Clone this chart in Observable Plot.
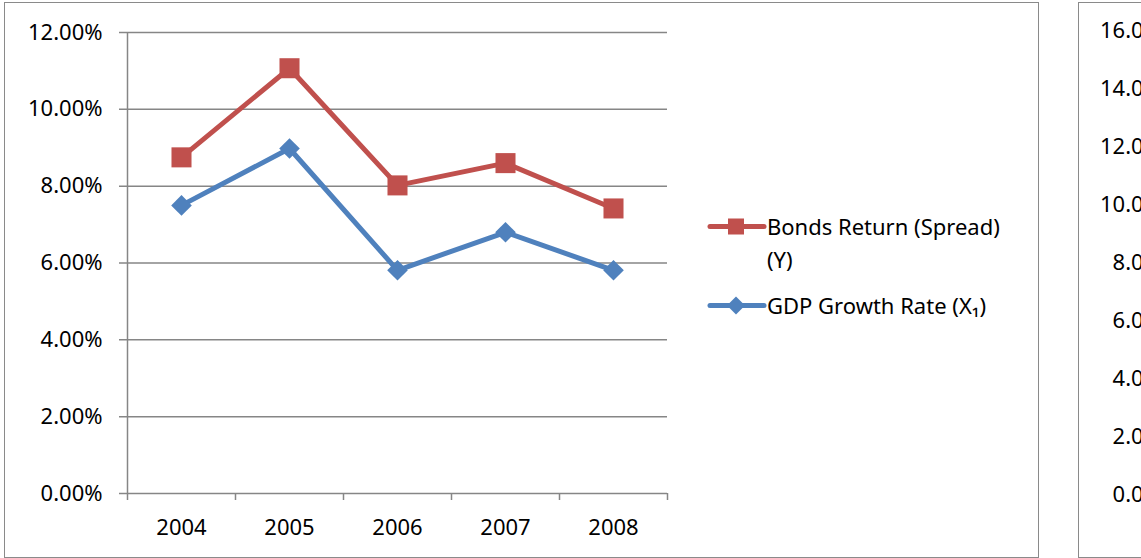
<!DOCTYPE html>
<html><head><meta charset="utf-8">
<script src="https://cdn.jsdelivr.net/npm/d3@7"></script>
<script src="https://cdn.jsdelivr.net/npm/@observablehq/plot@0.6"></script>
<style>
html,body{margin:0;padding:0;background:#fff;overflow:hidden;width:1141px;height:558px;}
body{font-family:"Noto Sans",sans-serif;}
.box{position:absolute;border:1px solid #8a8a8a;background:#fff;overflow:hidden;}
.legend{position:absolute;left:702px;top:207px;font-size:22px;color:#000;}
.row{display:flex;align-items:flex-start;margin-bottom:13px;}
.row svg{flex:none;}
.row span{line-height:33px;width:262px;}
</style></head>
<body>
<div id="c1" class="box" style="left:4px;top:2px;width:1033px;height:554px;"></div>
<div id="c2" class="box" style="left:1078px;top:2px;width:1000px;height:554px;"></div>
<script>
const years = [2004, 2005, 2006, 2007, 2008];
const bonds = [0.0875, 0.1107, 0.0802, 0.0860, 0.0742];
const gdp = [0.0750, 0.0898, 0.0581, 0.0680, 0.0581];
const yTicks = [0, 0.02, 0.04, 0.06, 0.08, 0.10, 0.12];
const yTicks2 = [0, 0.02, 0.04, 0.06, 0.08, 0.10, 0.12, 0.14, 0.16];
const seriesNames = ["Bonds Return (Spread) (Y)", "GDP Growth Rate (X\u2081)"];
const colors = ["#C0504D", "#4F81BD"];

const rows = years.flatMap((yr, i) => [
  {year: yr, value: bonds[i], series: seriesNames[0]},
  {year: yr, value: gdp[i], series: seriesNames[1]}
]);
const bounds = d3.range(years.length + 1).map(i => years[0] - 0.5 + i);
const grey = "#868686";
const fmt = d3.format(".2%");

const chart = Plot.plot({
  width: 700, height: 554,
  marginLeft: 122, marginRight: 38, marginTop: 29, marginBottom: 64,
  style: {fontFamily: "Noto Sans, sans-serif", fontSize: "22px", color: "#000", background: "transparent"},
  x: {domain: [years[0] - 0.5, years[years.length - 1] + 0.5], axis: null},
  y: {domain: [0, 0.12], axis: null},
  color: {domain: seriesNames, range: colors},
  marks: [
    Plot.ruleY(yTicks, {y: d => d, stroke: grey, strokeWidth: 1.5, insetLeft: -8}),
    Plot.ruleX([years[0] - 0.5], {y1: 0, y2: 0.12, stroke: grey, strokeWidth: 1.5}),
    Plot.ruleX(bounds, {x: d => d, y1: 0, y2: 0, insetBottom: -7, stroke: grey, strokeWidth: 1.5}),
    Plot.axisY({ticks: yTicks, tickFormat: fmt, tickSize: 0, tickPadding: 25, fill: "#000", fontSize: 22, label: null}),
    Plot.axisX({ticks: years, tickFormat: d => String(d), tickSize: 0, tickPadding: 26, fill: "#000", fontSize: 22, label: null}),
    Plot.line(rows, {x: "year", y: "value", stroke: "series", strokeWidth: 5, strokeLinejoin: "round", strokeLinecap: "round"}),
    Plot.dot(rows.filter(d => d.series === seriesNames[0]), {x: "year", y: "value", fill: colors[0], symbol: "square", r: 11.3}),
    Plot.dot(rows.filter(d => d.series === seriesNames[1]), {x: "year", y: "value", fill: colors[1], symbol: "diamond2", r: 9.3})
  ]
});
document.getElementById("c1").appendChild(chart);

// legend
const leg = document.createElement("div");
leg.className = "legend";
const legendLabels = ["Bonds Return (Spread) (Y)", "GDP Growth Rate (X\u2081)"];
legendLabels.forEach((lab, i) => {
  const row = document.createElement("div");
  row.className = "row";
  const sym = i === 0
    ? `<rect x="21" y="8.5" width="16" height="16" fill="${colors[0]}"/>`
    : `<path d="M29 7.5 L38 16.5 L29 25.5 L20 16.5 Z" fill="${colors[1]}"/>`;
  row.innerHTML = `<svg width="60" height="33"><line x1="3" x2="57" y1="16.5" y2="16.5" stroke="${colors[i]}" stroke-width="5" stroke-linecap="round"/>${sym}</svg><span>${lab}</span>`;
  leg.appendChild(row);
});
document.getElementById("c1").appendChild(leg);

// partial neighbouring chart (only its axis labels are visible)
const chart2 = Plot.plot({
  width: 400, height: 554,
  marginLeft: 120, marginRight: 10, marginTop: 27, marginBottom: 63,
  style: {fontFamily: "Noto Sans, sans-serif", fontSize: "22px", color: "#000", background: "transparent"},
  y: {domain: [0, 0.16], axis: null},
  marks: [
    Plot.ruleY(yTicks2, {y: d => d, stroke: grey, strokeWidth: 1.5, insetLeft: -8}),
    Plot.axisY({ticks: yTicks2, tickFormat: fmt, tickSize: 0, tickPadding: 25, fill: "#000", fontSize: 22, label: null})
  ]
});
document.getElementById("c2").appendChild(chart2);
</script>
</body></html>
